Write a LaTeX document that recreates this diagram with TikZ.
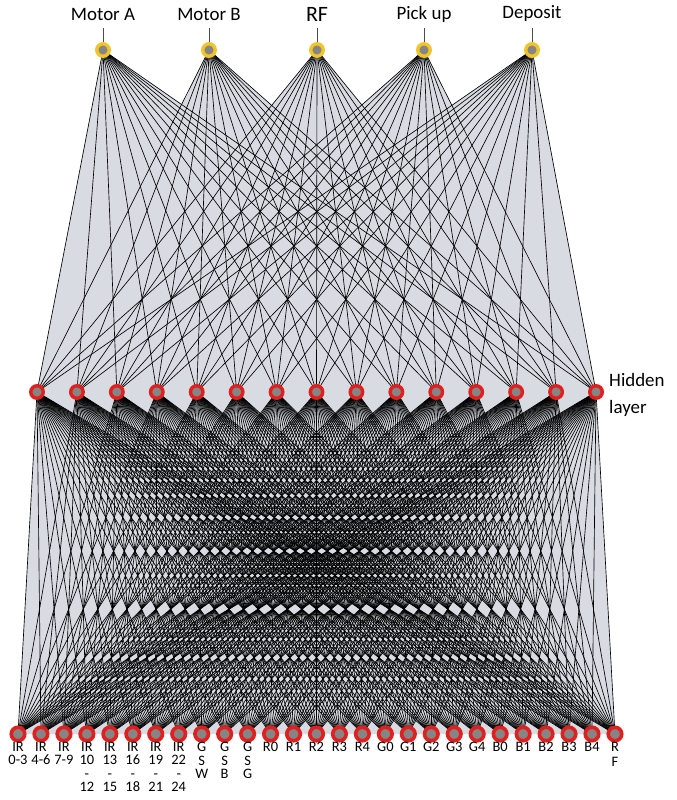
\documentclass[tikz,border=0pt]{standalone}
\usepackage{fontspec}
\setmainfont{Carlito}
\usetikzlibrary{backgrounds}
\definecolor{meshbg}{HTML}{D8DBE2}
\definecolor{ringred}{HTML}{E0201E}
\definecolor{ringyel}{HTML}{F0C42A}
\definecolor{coregrey}{HTML}{858585}
\tikzset{
  hid/.style={circle,draw=ringred,fill=coregrey,line width=3.4bp,minimum size=12.5bp,inner sep=0pt},
  inp/.style={circle,draw=ringred,fill=coregrey,line width=3.6bp,minimum size=13.5bp,inner sep=0pt},
  outn/.style={circle,draw=ringyel,fill=coregrey,line width=3.4bp,minimum size=12.5bp,inner sep=0pt},
  wire/.style={black,line width=0.65bp},
  toplbl/.style={font=\fontsize{19}{21}\selectfont,inner sep=0pt},
  botlbl/.style={font=\fontsize{14.5}{13.5}\selectfont,inner sep=0pt,anchor=north,align=center},
  tick/.style={black!70,line width=0.8bp}
}
\begin{document}
\begin{tikzpicture}[x=1bp,y=-1bp]
\useasboundingbox (0,0) rectangle (677,800);
% output nodes
\foreach \k/\xx in {1/103,2/209,3/317,4/424,5/532}
  \node[outn] (o\k) at (\xx,50) {};
% hidden nodes
\foreach \k in {1,...,15}
  \node[hid] (h\k) at ({37+(\k-1)*39.93},392) {};
% input nodes
\foreach \k in {1,...,27}
  \node[inp] (i\k) at ({18+(\k-1)*22.96},734) {};
% background fills and wires
\begin{pgfonlayer}{background}
  \foreach \a in {1,...,5}
    \fill[meshbg] (o\a.center) -- (h15.center) -- (h1.center) -- cycle;
  \fill[meshbg] (h1.center) -- (h15.center) -- (i27.center) -- (i1.center) -- cycle;
  \foreach \a in {1,...,5}
    \foreach \b in {1,...,15}
      \draw[wire] (o\a.center) -- (h\b.center);
  \foreach \a in {1,...,15}
    \foreach \b in {1,...,27}
      \draw[wire] (h\a.center) -- (i\b.center);
\end{pgfonlayer}
% top labels
\node[toplbl] (lA) at (103,14) {Motor A};
\node[toplbl] (lB) at (209,14) {Motor B};
\node[toplbl,font=\fontsize{22}{24}\selectfont] (lRF) at (317,14) {RF};
\node[toplbl] (lP) at (424,14) {Pick up};
\node[toplbl] (lD) at (532,14) {Deposit};
\foreach \k in {1,...,5}
  \draw[tick] (o\k.north) -- ++(0,-14) coordinate (t\k);
% hidden layer label
\node[anchor=west,align=left,font=\fontsize{19}{28}\selectfont,inner sep=0pt] (hl) at (609,395) {Hidden\\layer};
% input labels
\foreach \k/\t in {1/{IR\\0-3},2/{IR\\4-6},3/{IR\\7-9},4/{IR\\10\\-\\12},5/{IR\\13\\-\\15},6/{IR\\16\\-\\18},7/{IR\\19\\-\\21},8/{IR\\22\\-\\24},9/{G\\S\\W},10/{G\\S\\B},11/{G\\S\\G},12/R0,13/R1,14/R2,15/R3,16/R4,17/G0,18/G1,19/G2,20/G3,21/G4,22/B0,23/B1,24/B2,25/B3,26/B4,27/{R\\[2bp]F}}
  \node[botlbl] (lb\k) at ({18+(\k-1)*22.96},742) {\t};
\end{tikzpicture}
\end{document}
